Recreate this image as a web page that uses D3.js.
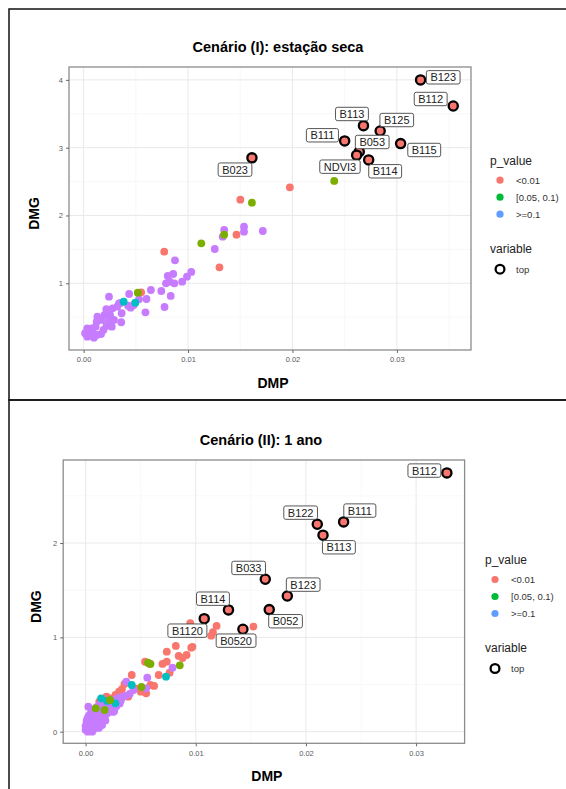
<!DOCTYPE html>
<html>
<head>
<meta charset="utf-8">
<title>DMG x DMP</title>
<script src="https://d3js.org/d3.v7.min.js"></script>
<style>
  body { margin: 0; background: #fff; }
  svg { font-family: "Liberation Sans", Arial, sans-serif; }
  .tick text { fill: #5a5a5a; font-size: 7.5px; }
  .tick line { stroke: #666; }
  .domain { display: none; }
</style>
</head>
<body>
<script>
// ---- data: cenario I (estacao seca) ----
var p1Red = [[0.01975,2.416],[0.01501,2.233],[0.00772,1.466],[0.01464,1.717],[0.01301,1.236],[0.00551,0.867]];
var p1Green = [[0.0240,2.509],[0.01612,2.189],[0.01127,1.590],[0.01346,1.717],[0.00519,0.861]];
var p1Teal = [[0.00384,0.729],[0.00495,0.714]];
var p1Purple = [[0.01346,1.786],[0.01332,1.687],[0.01536,1.835],[0.01536,1.761],[0.01716,1.771],[0.01256,1.506],
  [0.00875,1.339],[0.01031,1.167],[0.0099,1.097],[0.00944,1.024],[0.00858,1.137],[0.00806,1.108],[0.00824,1.024],
  [0.00869,1.000],[0.00789,1.000],[0.00744,0.886],[0.00834,0.813],[0.00775,0.650],[0.00644,0.901],[0.00602,0.768],
  [0.00592,0.572],[0.0053,0.764],[0.00436,0.842],[0.00426,0.670],[0.0045,0.640],[0.00339,0.705],[0.00322,0.655],
  [0.00364,0.558],[0.0036,0.425],[0.00243,0.803],[0.00277,0.631],[0.00218,0.617],[0.00201,0.532],[0.00253,0.532],
  [0.00243,0.444],[0.00291,0.459],[0.0027,0.360],[0.00173,0.459],[0.00132,0.507],[0.00125,0.434],[0.00115,0.360],
  [0.00167,0.252],[0.0009,0.263],[0.0008,0.336],[0.00045,0.311],[0.00035,0.212],[0.00098,0.198],[0.00035,0.336],
  [0.00063,0.237],[0.00125,0.237],[0.00014,0.263],[0.00218,0.370],[0.0019,0.311],[0.00355,0.710],[0.00480,0.680]];
var p1Top = [
  {name:"B123", x:0.03227, y:4.00, lx:0.03444, ly:4.038},
  {name:"B112", x:0.0354, y:3.615, lx:0.03324, ly:3.718},
  {name:"B113", x:0.0268, y:3.325, lx:0.02570, ly:3.497},
  {name:"B125", x:0.0284, y:3.246, lx:0.02999, ly:3.408},
  {name:"B111", x:0.0250, y:3.10, lx:0.02287, ly:3.183},
  {name:"B115", x:0.03036, y:3.06, lx:0.03262, ly:2.966},
  {name:"B053", x:0.0264, y:2.94, lx:0.02764, ly:3.084},
  {name:"NDVI3", x:0.02615, y:2.89, lx:0.02455, ly:2.720},
  {name:"B114", x:0.0273, y:2.82, lx:0.02888, ly:2.652},
  {name:"B023", x:0.01612, y:2.85, lx:0.01450, ly:2.676}
];

// ---- data: cenario II (1 ano) ----
var p2Red = [[0.01523,1.114],[0.01189,1.121],[0.01156,1.054],[0.0114,1.018],[0.0095,1.150],[0.00959,0.891],
  [0.00819,0.909],[0.00737,0.848],[0.00845,0.803],[0.00917,0.813],[0.00737,0.742],[0.00698,0.718],[0.0054,0.742],
  [0.00664,0.601],[0.00763,0.626],[0.00622,0.485],[0.00589,0.495],[0.00501,0.424],[0.0055,0.407],[0.00419,0.601],
  [0.00353,0.506],[0.00304,0.424],[0.00387,0.371],[0.00271,0.389],[0.00222,0.354],[0.0019,0.371],[0.00124,0.318],
  [0.00141,0.291],[0.00970,0.900],[0.00880,0.780],[0.00580,0.720],[0.00450,0.460],[0.00330,0.450],[0.00160,0.330]];
var p2Green = [[0.00589,0.718],[0.00566,0.732],[0.00855,0.704],[0.00507,0.474],[0.00222,0.336],[0.00092,0.248],[0.00173,0.230]];
var p2Teal = [[0.0073,0.583],[0.00419,0.495],[0.00141,0.354],[0.00271,0.301],[0.00196,0.326]];
var p2Purple = [[0.00789,0.679],[0.0056,0.573],[0.0055,0.460],[0.0037,0.530],[0.00435,0.442],[0.00337,0.371],[0.00025,0.265],
  [0.0000,0.02],[0.0001,0.05],[0.0002,0.03],[0.0003,0.06],[0.0001,0.09],[0.0004,0.04],[0.0005,0.08],[0.0006,0.05],
  [0.0003,0.11],[0.0007,0.10],[0.0008,0.07],[0.0009,0.12],[0.0005,0.14],[0.0010,0.09],[0.0011,0.14],[0.0012,0.11],
  [0.0008,0.17],[0.0013,0.16],[0.0014,0.13],[0.0015,0.19],[0.0011,0.20],[0.0016,0.15],[0.0017,0.21],[0.0018,0.18],
  [0.0014,0.24],[0.0019,0.23],[0.0020,0.20],[0.0021,0.26],[0.0017,0.27],[0.0022,0.22],[0.0023,0.28],[0.0024,0.25],
  [0.0026,0.30],[0.0028,0.27],[0.0029,0.33],[0.0031,0.30],[0.0006,0.21],[0.0002,0.15],[0.0004,0.18],[0.0009,0.22],
  [0.0033,0.36],[0.0040,0.40],[0.0012,0.27],[0.0025,0.21],[0.0007,0.02],[0.0015,0.07],
  [0.0000,0.06],[0.0001,0.12],[0.0002,0.08],[0.0003,0.01],[0.0004,0.10],[0.0005,0.03],[0.0006,0.12],[0.0007,0.15],
  [0.0008,0.11],[0.0009,0.05],[0.0010,0.16],[0.0011,0.08],[0.0012,0.18],[0.0013,0.12],[0.0014,0.20],[0.0015,0.14],
  [0.0016,0.22],[0.0017,0.17],[0.0018,0.24],[0.0019,0.19],[0.0020,0.28],[0.0021,0.22],[0.0022,0.30],[0.0023,0.24],
  [0.0024,0.32],[0.0025,0.27],[0.0027,0.34],[0.0030,0.36],[0.0003,0.17],[0.0005,0.20],[0.0008,0.24],[0.0010,0.26],
  [0.0013,0.29],[0.0002,0.00],[0.0006,0.00],[0.0012,0.04],[0.0018,0.12],[0.0026,0.22],[0.0032,0.33],[0.0036,0.38]];
var p2Top = [
  {name:"B112", x:0.03279, y:2.743, lx:0.03075, ly:2.768},
  {name:"B111", x:0.02342, y:2.224, lx:0.02489, ly:2.344},
  {name:"B122", x:0.02103, y:2.199, lx:0.01952, ly:2.322},
  {name:"B113", x:0.02155, y:2.083, lx:0.02299, ly:1.955},
  {name:"B033", x:0.01631, y:1.616, lx:0.0148, ly:1.736},
  {name:"B123", x:0.01831, y:1.439, lx:0.01975, ly:1.559},
  {name:"B114", x:0.01297, y:1.291, lx:0.01156, ly:1.410},
  {name:"B052", x:0.01667, y:1.294, lx:0.01815, ly:1.171},
  {name:"B1120", x:0.01077, y:1.198, lx:0.00924, ly:1.071},
  {name:"B0520", x:0.01428, y:1.086, lx:0.01366, ly:0.965}
];

var xTicks = [0, 0.01, 0.02, 0.03];
var xMinor = [0.005, 0.015, 0.025, 0.035];
var y1Ticks = [1, 2, 3, 4];
var y1Minor = [0.5, 1.5, 2.5, 3.5];
var y2Ticks = [0, 1, 2];
var y2Minor = [0.5, 1.5, 2.5];
var legendLabels = ["<0.01", "[0.05, 0.1)", ">=0.1"];
var legendColors = ["#F8766D", "#00BA38", "#619CFF"];

var w = 566, h = 789;
var svg = d3.select("body").append("svg").attr("width", w).attr("height", h);

// outer frames
svg.append("rect").attr("x", 9).attr("y", 9).attr("width", 580).attr("height", 391)
   .attr("fill", "none").attr("stroke", "#111").attr("stroke-width", 1.5);
svg.append("rect").attr("x", 9).attr("y", 400).attr("width", 580).attr("height", 420)
   .attr("fill", "none").attr("stroke", "#111").attr("stroke-width", 1.5);

function panel(cfg) {
  var x = d3.scaleLinear().domain(cfg.xd).range([cfg.left, cfg.right]);
  var y = d3.scaleLinear().domain(cfg.yd).range([cfg.bottom, cfg.top]);
  var g = svg.append("g");

  // grid
  g.selectAll(".gxm").data(xMinor.filter(function(d){ return x(d) < cfg.right; })).enter().append("line")
   .attr("x1", function(d){ return x(d); }).attr("x2", function(d){ return x(d); })
   .attr("y1", cfg.top).attr("y2", cfg.bottom).attr("stroke", "#f3f3f3").attr("stroke-width", 0.6);
  g.selectAll(".gym").data(cfg.yMinor).enter().append("line")
   .attr("y1", function(d){ return y(d); }).attr("y2", function(d){ return y(d); })
   .attr("x1", cfg.left).attr("x2", cfg.right).attr("stroke", "#f3f3f3").attr("stroke-width", 0.6);
  g.selectAll(".gx").data(xTicks).enter().append("line")
   .attr("x1", function(d){ return x(d); }).attr("x2", function(d){ return x(d); })
   .attr("y1", cfg.top).attr("y2", cfg.bottom).attr("stroke", "#e6e6e6").attr("stroke-width", 0.9);
  g.selectAll(".gy").data(cfg.yTicks).enter().append("line")
   .attr("y1", function(d){ return y(d); }).attr("y2", function(d){ return y(d); })
   .attr("x1", cfg.left).attr("x2", cfg.right).attr("stroke", "#e6e6e6").attr("stroke-width", 0.9);

  // points
  function dots(arr, col) {
    g.append("g").selectAll("circle").data(arr).enter().append("circle")
     .attr("cx", function(d){ return x(d[0]); }).attr("cy", function(d){ return y(d[1]); })
     .attr("r", 3.9).attr("fill", col);
  }
  dots(cfg.red, "#F8766D");
  dots(cfg.purple, "#C77CFF");
  dots(cfg.teal, "#00BFC4");
  dots(cfg.green, "#7CAE00");

  // top points
  g.append("g").selectAll("circle").data(cfg.tops).enter().append("circle")
   .attr("cx", function(d){ return x(d.x); }).attr("cy", function(d){ return y(d.y); })
   .attr("r", 4.6).attr("fill", "#F8766D").attr("stroke", "#000").attr("stroke-width", 2.3);

  // labels
  var lab = g.append("g").selectAll("g").data(cfg.tops).enter().append("g")
   .attr("transform", function(d){ return "translate(" + x(d.lx) + "," + y(d.ly) + ")"; });
  lab.append("rect");
  lab.append("text").attr("text-anchor", "middle").attr("dy", "0.36em")
   .attr("font-size", 11).attr("fill", "#222").text(function(d){ return d.name; });
  lab.each(function() {
    var t = d3.select(this).select("text").node().getBBox();
    d3.select(this).select("rect").attr("x", t.x - 4).attr("y", -6.7)
      .attr("width", t.width + 8).attr("height", 13.4).attr("rx", 2)
      .attr("fill", "#fff").attr("stroke", "#444").attr("stroke-width", 0.9);
  });

  // panel border
  g.append("rect").attr("x", cfg.left).attr("y", cfg.top)
   .attr("width", cfg.right - cfg.left).attr("height", cfg.bottom - cfg.top)
   .attr("fill", "none").attr("stroke", "#8c8c8c").attr("stroke-width", 1.3);

  // axes
  g.append("g").attr("transform", "translate(0," + cfg.bottom + ")")
   .call(d3.axisBottom(x).tickValues(xTicks).tickFormat(d3.format(".2f")).tickSize(3).tickPadding(4));
  g.append("g").attr("transform", "translate(" + cfg.left + ",0)")
   .call(d3.axisLeft(y).tickValues(cfg.yTicks).tickFormat(d3.format("d")).tickSize(3).tickPadding(3));

  // titles
  g.append("text").attr("x", cfg.titleX).attr("y", cfg.top - 15).attr("text-anchor", "middle")
   .attr("font-size", 14.5).attr("font-weight", "bold").text(cfg.title);
  g.append("text").attr("x", (cfg.left + cfg.right) / 2 + 3).attr("y", cfg.bottom + 38).attr("text-anchor", "middle")
   .attr("font-size", 14).attr("font-weight", "bold").text("DMP");
  g.append("text").attr("transform", "translate(" + cfg.yTitleX + "," + ((cfg.top + cfg.bottom) / 2 + 5) + ") rotate(-90)")
   .attr("text-anchor", "middle").attr("font-size", 14).attr("font-weight", "bold").text("DMG");

  // legend
  var L = g.append("g").attr("transform", "translate(" + cfg.legX + "," + cfg.legY + ")");
  L.append("text").attr("x", 0).attr("y", 4).attr("font-size", 12).attr("fill", "#222").text("p_value");
  L.selectAll(".li").data(legendLabels).enter().append("circle")
   .attr("cx", 10).attr("cy", function(d, i){ return 19.5 + i * 17; }).attr("r", 3.6)
   .attr("fill", function(d, i){ return legendColors[i]; });
  L.selectAll(".lt").data(legendLabels).enter().append("text")
   .attr("x", 26).attr("y", function(d, i){ return 19.5 + i * 17; }).attr("dy", "0.35em")
   .attr("font-size", 9.5).attr("fill", "#333").text(function(d){ return d; });
  L.append("text").attr("x", 0).attr("y", 92).attr("font-size", 12).attr("fill", "#222").text("variable");
  L.append("circle").attr("cx", 10).attr("cy", 108.5).attr("r", 4.4)
   .attr("fill", "#fff").attr("stroke", "#000").attr("stroke-width", 2.3);
  L.append("text").attr("x", 26).attr("y", 108.5).attr("dy", "0.35em")
   .attr("font-size", 9.5).attr("fill", "#333").text("top");
}

panel({
  left: 69, right: 471, top: 67, bottom: 350,
  xd: [-0.0014, 0.0371], yd: [0.016, 4.19],
  yTicks: y1Ticks, yMinor: y1Minor,
  red: p1Red, green: p1Green, teal: p1Teal, purple: p1Purple, tops: p1Top,
  title: "Cenário (I): estação seca", titleX: 278, yTitleX: 39,
  legX: 490, legY: 160.7
});

panel({
  left: 63.2, right: 464.6, top: 460, bottom: 743.3,
  xd: [-0.00203, 0.0344], yd: [-0.123, 2.88],
  yTicks: y2Ticks, yMinor: y2Minor,
  red: p2Red, green: p2Green, teal: p2Teal, purple: p2Purple, tops: p2Top,
  title: "Cenário (II): 1 ano", titleX: 261, yTitleX: 41,
  legX: 485, legY: 560
});
</script>
</body>
</html>
